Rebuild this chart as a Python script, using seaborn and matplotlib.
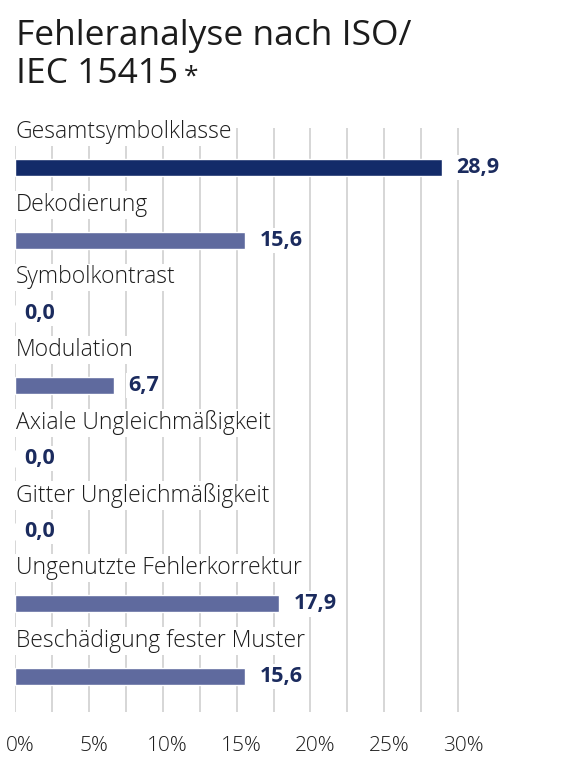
import matplotlib
matplotlib.use('Agg')
import matplotlib.pyplot as plt
import matplotlib.transforms as mtransforms
import numpy as np
import pandas as pd
import seaborn as sns

# data
categories = ['Gesamtsymbolklasse', 'Dekodierung', 'Symbolkontrast', 'Modulation',
              'Axiale Ungleichmäßigkeit', 'Gitter Ungleichmäßigkeit',
              'Ungenutzte Fehlerkorrektur', 'Beschädigung fester Muster']
values = [28.9, 15.6, 0.0, 6.7, 0.0, 0.0, 17.9, 15.6]
tick_values = [0, 5, 10, 15, 20, 25, 30]
tick_labels = ['0%', '5%', '10%', '15%', '20%', '25%', '30%']

dark = '#132b69'
light = '#5f6a9e'
label_col = '#1b2b5e'
text_col = '#1c1c1c'

sns.set_theme(style='white')
plt.rcParams['font.family'] = ['Open Sans', 'DejaVu Sans']

df = pd.DataFrame({'kategorie': categories, 'wert': values})
colors = [dark] + [light] * (len(categories) - 1)

W, H = 569, 768
fig = plt.figure(figsize=(W / 100, H / 100), dpi=100)
ax = fig.add_axes([15 / W, (H - 712) / H, (W - 15) / W, 584 / H])

sns.barplot(data=df, x='wert', y='kategorie', hue='kategorie', palette=colors,
            orient='h', width=0.234, legend=False, saturation=1, ax=ax, zorder=2)

ax.set_xlim(0, 37.5)
ax.set_ylim(7.486, -0.546)

# grid every 2.5 %
ax.set_xticks(tick_values)
ax.set_xticklabels(tick_labels)
ax.set_xticks(np.arange(0, 30.1, 2.5), minor=True)
ax.grid(which='both', axis='x', color='#cbcbcb', linewidth=1.1, zorder=0)
ax.grid(False, axis='y')
ax.set_axisbelow(True)
ax.tick_params(axis='x', which='both', length=0, pad=17, labelsize=15,
               labelcolor=text_col)
offset = mtransforms.ScaledTranslation(5 / 100, 0, fig.dpi_scale_trans)
for lab in ax.get_xticklabels():
    lab.set_transform(lab.get_transform() + offset)
    lab.set_fontweight('light')
ax.set_yticks([])
ax.set_xlabel('')
ax.set_ylabel('')
for s in ax.spines.values():
    s.set_visible(False)

# category labels above the bars
for i, cat in enumerate(categories):
    ax.text(0.05, i - 0.49, cat, ha='left', va='center', fontsize=16.5,
            color=text_col, fontweight='light', zorder=3,
            bbox=dict(boxstyle='square,pad=0.08', fc='white', ec='none'))

# value labels
for i, v in enumerate(values):
    ax.annotate(f'{v:.1f}'.replace('.', ','), xy=(v, i), xytext=(7 if v == 0 else 10, 0),
                textcoords='offset points', ha='left', va='center', fontsize=15.5,
                fontweight='bold', color=label_col, zorder=3,
                bbox=dict(boxstyle='square,pad=0.1', fc='white', ec='none'))

fig.text(16 / W, 1 - 45 / H, 'Fehleranalyse nach ISO/', fontsize=25.5,
         color=text_col, va='baseline', ha='left')
t2 = fig.text(16 / W, 1 - 83 / H, 'IEC 15415', fontsize=25.5,
              color=text_col, va='baseline', ha='left')
ax.annotate('*', xy=(1, 0.78), xycoords=t2, xytext=(4, 0), textcoords='offset points',
            fontsize=19, color=text_col, ha='left', va='top', annotation_clip=False)

fig.savefig('out.png', dpi=100)
